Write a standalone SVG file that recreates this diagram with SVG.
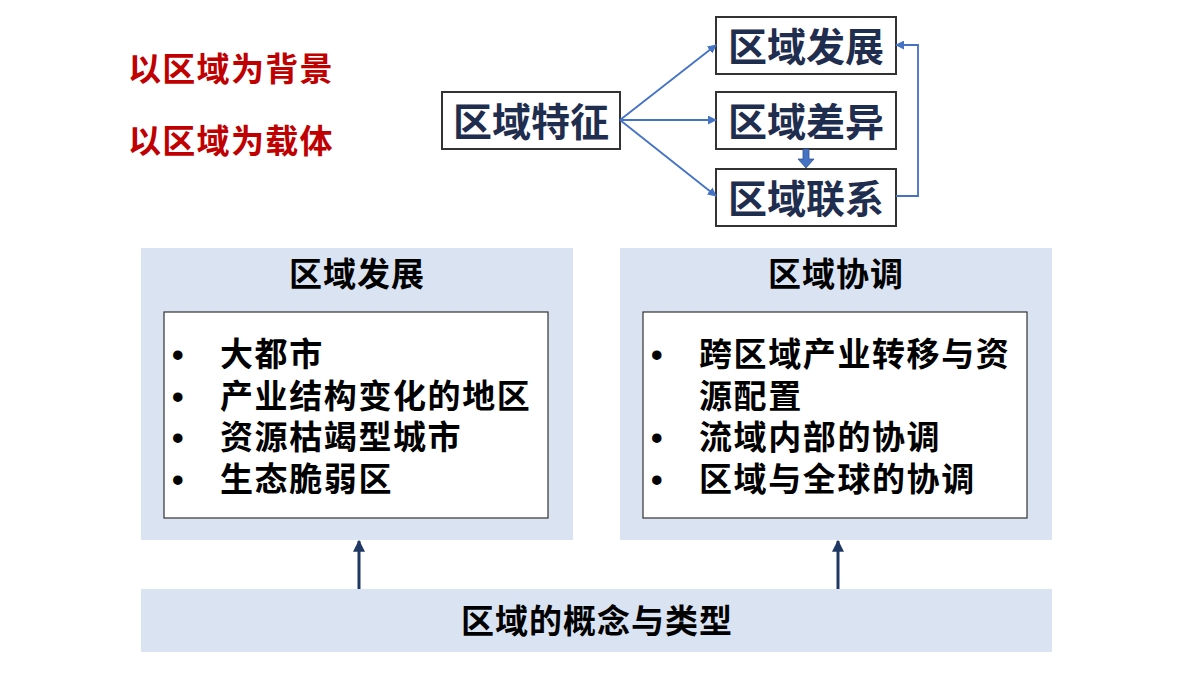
<svg xmlns="http://www.w3.org/2000/svg" width="1200" height="675" viewBox="0 0 1200 675">
<style>
text{font-family:"Liberation Sans","Noto Sans CJK SC",sans-serif;font-weight:bold}
.red{fill:#C00000;font-size:33px;letter-spacing:1.3px}
.nb{fill:#fff;stroke:#333;stroke-width:2}
.nt{fill:#1F2D4E;font-size:39px;text-anchor:middle}
.panel{fill:#D9E3F1}
.inner{fill:#fff;stroke:#333;stroke-width:1.2}
.t{fill:#000;font-size:33px;letter-spacing:1.6px}
.th{fill:#000;font-size:33px;text-anchor:middle;letter-spacing:1px}
.ln{stroke:#4472C4;stroke-width:1.8;fill:none}
</style>
<defs>
<marker id="a" viewBox="0 0 10 10" refX="9" refY="5" markerWidth="5" markerHeight="5" orient="auto"><path d="M0,0L10,5L0,10z" fill="#4472C4"/></marker>
<marker id="b" viewBox="0 0 10 10" refX="9" refY="5" markerWidth="4" markerHeight="4" orient="auto"><path d="M0,0L10,5L0,10z" fill="#1F3864"/></marker>
</defs>
<text class="red" x="128" y="81">以区域为背景</text>
<text class="red" x="128" y="153">以区域为载体</text>
<g id="tz"><rect class="nb" x="442" y="92" width="178" height="57"/><text class="nt" x="531" y="136">区域特征</text></g>
<g id="fz"><rect class="nb" x="716" y="17" width="180" height="57"/><text class="nt" x="806" y="61">区域发展</text></g>
<g id="cy"><rect class="nb" x="716" y="92" width="180" height="57"/><text class="nt" x="806" y="136">区域差异</text></g>
<g id="lx"><rect class="nb" x="716" y="169" width="180" height="57"/><text class="nt" x="806" y="213">区域联系</text></g>
<g id="p1"><rect class="panel" x="141" y="248" width="432" height="292"/><text class="th" x="357" y="286">区域发展</text>
<rect class="inner" x="164" y="312" width="384" height="206"/>
<text class="t" x="172" y="366">•</text><text class="t" x="220" y="366">大都市</text>
<text class="t" x="172" y="408">•</text><text class="t" x="220" y="408">产业结构变化的地区</text>
<text class="t" x="172" y="449">•</text><text class="t" x="220" y="449">资源枯竭型城市</text>
<text class="t" x="172" y="491">•</text><text class="t" x="220" y="491">生态脆弱区</text></g>
<g id="p2"><rect class="panel" x="620" y="248" width="432" height="292"/><text class="th" x="836" y="286">区域协调</text>
<rect class="inner" x="643" y="312" width="384" height="206"/>
<text class="t" x="651" y="366">•</text><text class="t" x="699" y="366">跨区域产业转移与资</text>
<text class="t" x="699" y="408">源配置</text>
<text class="t" x="651" y="449">•</text><text class="t" x="699" y="449">流域内部的协调</text>
<text class="t" x="651" y="491">•</text><text class="t" x="699" y="491">区域与全球的协调</text></g>
<g id="base"><rect class="panel" x="141" y="589" width="911" height="63"/><text class="th" x="597" y="633">区域的概念与类型</text></g>
<g id="connectors">
<path class="ln" d="M620,120L716,45" marker-end="url(#a)"/>
<path class="ln" d="M620,120L716,120" marker-end="url(#a)"/>
<path class="ln" d="M620,120L716,196" marker-end="url(#a)"/>
<path class="ln" d="M896,196H918V45H896" marker-end="url(#a)"/>
<path d="M803,149h6v10h5l-8,9l-8,-9h5z" fill="#4472C4" stroke="#2F528F" stroke-width="0.8"/>
<path d="M359,589V541" stroke="#1F3864" stroke-width="3" marker-end="url(#b)"/>
<path d="M838,589V541" stroke="#1F3864" stroke-width="3" marker-end="url(#b)"/>
</g>
</svg>
